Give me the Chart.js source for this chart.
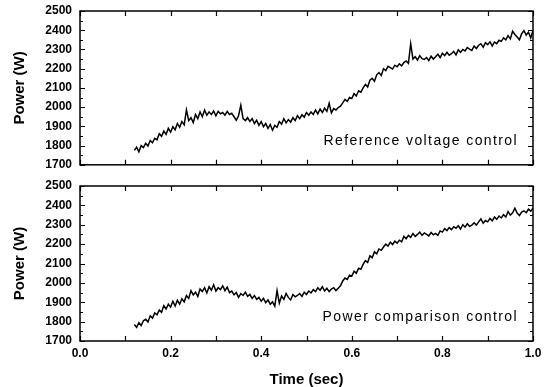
<!DOCTYPE html>
<html>
<head>
<meta charset="utf-8">
<script src="https://cdn.jsdelivr.net/npm/chart.js@4"></script>
<style>
  html, body { margin: 0; padding: 0; background: #fff; }
  #wrap { position: relative; width: 551px; height: 387px; overflow: hidden; }
  .pane { position: absolute; left: 0; width: 551px; }
  #topPane { top: 0; height: 172px; }
  #botPane { top: 170px; height: 217px; }
</style>
</head>
<body>
<div id="wrap">
  <div class="pane" id="topPane"><canvas id="cTop" width="551" height="172"></canvas></div>
  <div class="pane" id="botPane"><canvas id="cBot" width="551" height="217"></canvas></div>
</div>
<script>
// ---- data ----
const times = [
  0.120,0.125,0.130,0.135,0.140,0.145,0.150,0.155,0.160,0.165,
  0.170,0.175,0.180,0.185,0.190,0.195,0.200,0.205,0.210,0.215,
  0.220,0.225,0.230,0.235,0.240,0.245,0.250,0.255,0.260,0.265,
  0.270,0.275,0.280,0.285,0.290,0.295,0.300,0.305,0.310,0.315,
  0.320,0.325,0.330,0.335,0.340,0.345,0.350,0.355,0.360,0.365,
  0.370,0.375,0.380,0.385,0.390,0.395,0.400,0.405,0.410,0.415,
  0.420,0.425,0.430,0.435,0.440,0.445,0.450,0.455,0.460,0.465,
  0.470,0.475,0.480,0.485,0.490,0.495,0.500,0.505,0.510,0.515,
  0.520,0.525,0.530,0.535,0.540,0.545,0.550,0.555,0.560,0.565,
  0.570,0.575,0.580,0.585,0.590,0.595,0.600,0.605,0.610,0.615,
  0.620,0.625,0.630,0.635,0.640,0.645,0.650,0.655,0.660,0.665,
  0.670,0.675,0.680,0.685,0.690,0.695,0.700,0.705,0.710,0.715,
  0.720,0.725,0.730,0.735,0.740,0.745,0.750,0.755,0.760,0.765,
  0.770,0.775,0.780,0.785,0.790,0.795,0.800,0.805,0.810,0.815,
  0.820,0.825,0.830,0.835,0.840,0.845,0.850,0.855,0.860,0.865,
  0.870,0.875,0.880,0.885,0.890,0.895,0.900,0.905,0.910,0.915,
  0.920,0.925,0.930,0.935,0.940,0.945,0.950,0.955,0.960,0.965,
  0.970,0.975,0.980,0.985,0.990,0.995,1.000
];

const refVoltagePower = [
  1775,1792,1768,1800,1790,1812,1798,1826,1815,1838,
  1830,1862,1848,1875,1858,1890,1870,1898,1882,1915,
  1895,1925,1908,1985,1930,1945,1920,1962,1940,1975,
  1950,1985,1958,1975,1962,1980,1955,1978,1965,1972,
  1958,1978,1962,1968,1950,1932,1955,2010,1940,1930,
  1945,1925,1940,1915,1932,1905,1925,1898,1915,1890,
  1910,1880,1905,1895,1925,1912,1940,1918,1935,1922,
  1945,1930,1955,1940,1960,1948,1972,1958,1975,1962,
  1985,1965,1990,1972,1995,1978,2020,1970,1992,1985,
  1998,2005,2022,2040,2030,2050,2045,2070,2058,2085,
  2078,2100,2118,2105,2140,2150,2135,2168,2180,2165,
  2200,2190,2212,2205,2198,2218,2210,2225,2215,2232,
  2240,2228,2330,2250,2262,2245,2268,2252,2248,2258,
  2242,2265,2250,2262,2275,2258,2280,2268,2285,2270,
  2278,2290,2272,2298,2285,2300,2292,2310,2302,2295,
  2318,2305,2322,2330,2312,2335,2325,2340,2318,2338,
  2330,2348,2342,2360,2350,2372,2355,2395,2378,2365,
  2350,2382,2398,2375,2390,2360,2400
];

const powerCompPower = [
  1785,1770,1795,1780,1805,1812,1798,1830,1818,1845,
  1835,1860,1848,1882,1865,1890,1875,1905,1880,1910,
  1890,1918,1902,1935,1920,1960,1938,1952,1930,1968,
  1955,1975,1948,1980,1962,1990,1958,1975,1965,1985,
  1960,1978,1950,1958,1938,1950,1925,1945,1935,1952,
  1930,1940,1920,1935,1915,1925,1905,1920,1898,1912,
  1890,1902,1880,1960,1895,1932,1915,1945,1925,1912,
  1940,1928,1935,1945,1930,1952,1940,1958,1948,1965,
  1955,1975,1962,1980,1958,1972,1955,1968,1975,1960,
  1972,1985,2010,2025,2018,2040,2035,2060,2050,2075,
  2070,2095,2115,2105,2140,2130,2160,2150,2175,2168,
  2185,2200,2190,2210,2198,2215,2205,2220,2212,2240,
  2228,2245,2235,2255,2240,2250,2262,2245,2258,2250,
  2242,2260,2248,2255,2245,2268,2262,2280,2270,2285,
  2275,2290,2282,2295,2278,2300,2288,2305,2292,2298,
  2310,2298,2315,2330,2308,2322,2315,2332,2320,2340,
  2328,2345,2335,2352,2340,2368,2350,2362,2385,2360,
  2348,2365,2372,2362,2380,2370,2385
];

const yMin = 1700, yMax = 2500, yStep = 100;
const xMin = 0.0, xMax = 1.0, xStep = 0.2;
const yTitle = 'Power (W)';
const xTitle = 'Time (sec)';
const topLabel = 'Reference voltage control';
const botLabel = 'Power comparison control';
// ---- end data ----

const FONT = '"Liberation Sans", Arial, Helvetica, sans-serif';

const framePlugin = {
  id: 'frame',
  afterDraw(chart, args, opts) {
    const { ctx, chartArea, scales } = chart;
    const { left, right, top, bottom } = chartArea;
    const xs = scales.x, ys = scales.y;
    ctx.save();
    ctx.strokeStyle = '#000';
    ctx.lineWidth = 1.5;
    ctx.strokeRect(left, top, right - left, bottom - top);
    ctx.lineWidth = 1.2;
    ctx.beginPath();
    for (let v = yMin; v <= yMax; v += yStep / 2) {
      const py = Math.round(ys.getPixelForValue(v)) + 0.5;
      const len = (v % yStep === 0) ? 5 : 3;
      ctx.moveTo(left, py); ctx.lineTo(left + len, py);
      ctx.moveTo(right, py); ctx.lineTo(right - len, py);
    }
    for (let i = 0; i <= 10; i++) {
      const v = xMin + i * (xMax - xMin) / 10;
      const px = Math.round(xs.getPixelForValue(v)) + 0.5;
      const len = 5;
      ctx.moveTo(px, bottom); ctx.lineTo(px, bottom - len);
      ctx.moveTo(px, top); ctx.lineTo(px, top + len);
    }
    ctx.stroke();
    if (opts && opts.text) {
      ctx.font = '14px ' + FONT;
      try { ctx.letterSpacing = '1.4px'; } catch (e) {}
      ctx.textAlign = 'right';
      ctx.textBaseline = 'middle';
      ctx.fillStyle = '#000';
      ctx.fillText(opts.text, xs.getPixelForValue(opts.tx), ys.getPixelForValue(opts.ty));
    }
    ctx.restore();
  }
};

function makeChart(canvasId, values, label, isBottom, target) {
  const pts = values.map((v, i) => ({ x: times[i], y: v }));
  const chart = new Chart(document.getElementById(canvasId), {
    type: 'line',
    data: {
      datasets: [{
        data: pts,
        borderColor: '#000',
        borderWidth: 1.5,
        pointRadius: 0,
        pointHoverRadius: 0,
        tension: 0,
        fill: false
      }]
    },
    options: {
      responsive: false,
      animation: false,
      devicePixelRatio: 1,
      layout: { autoPadding: false, padding: { top: target.top, right: 551 - target.right, left: 0, bottom: 0 } },
      plugins: {
        legend: { display: false },
        tooltip: { enabled: false },
        frame: { text: label, tx: 0.967, ty: 1825 }
      },
      scales: {
        x: {
          type: 'linear',
          min: xMin, max: xMax,
          grid: { display: false, drawTicks: false },
          border: { display: false },
          ticks: {
            display: isBottom,
            stepSize: xStep,
            padding: 5,
            color: '#000',
            font: { family: FONT, size: 12, weight: 'bold' },
            callback: v => Number(v).toFixed(1),
            maxRotation: 0
          },
          title: {
            display: isBottom,
            text: xTitle,
            color: '#000',
            font: { family: FONT, size: 15, weight: 'bold', lineHeight: 1 },
            padding: { top: 0, bottom: 0 }
          },
          afterFit(scale) { scale.height = isBottom ? 46 : 7; }
        },
        y: {
          min: yMin, max: yMax,
          grid: { display: false, drawTicks: true, tickLength: 8 },
          border: { display: false },
          ticks: {
            stepSize: yStep,
            padding: 0,
            color: '#000',
            font: { family: FONT, size: 12, weight: 'bold' },
            callback: v => String(v)
          },
          title: {
            display: true,
            text: yTitle,
            color: '#000',
            font: { family: FONT, size: 15, weight: 'bold', lineHeight: 1.2 },
            padding: { top: 11, bottom: 0 }
          },
          afterFit(scale) { scale.width = 80; }
        }
      }
    },
    plugins: [framePlugin]
  });
  // nudge padding so the plot area lands where the reference has it
  for (let k = 0; k < 3; k++) {
    const a = chart.chartArea;
    const p = chart.options.layout.padding;
    p.top = Math.max(0, p.top + target.top - a.top);
    p.bottom = Math.max(0, p.bottom + a.bottom - target.bottom);
    p.right = Math.max(0, p.right + a.right - target.right);
    chart.update();
  }
  return chart;
}

makeChart('cTop', refVoltagePower, topLabel, false, { top: 11, bottom: 165, right: 533 });
makeChart('cBot', powerCompPower, botLabel, true, { top: 16, bottom: 171, right: 533 });
</script>
</body>
</html>
